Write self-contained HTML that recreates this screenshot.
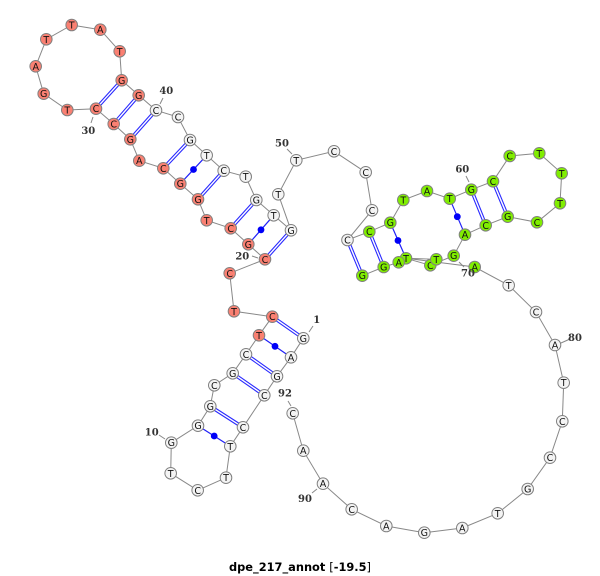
<!DOCTYPE html>
<html><head><meta charset="utf-8"><style>
html,body{margin:0;padding:0;background:#fff;width:600px;height:576px;overflow:hidden}
svg{display:block}
.r{fill:#fa8072}.g{fill:#80ee00}.w{fill:#f4f4f4}
circle.r,circle.g,circle.w{stroke:#808080;stroke-width:1;r:5.8px}
.n text,text.n{font:9.5px "DejaVu Sans",sans-serif;text-anchor:middle;fill:#111}
.l{font:bold 10px "DejaVu Serif",serif;text-anchor:middle;fill:#333}
</style></head><body>
<svg width="600" height="576" viewBox="0 0 600 576" xmlns="http://www.w3.org/2000/svg">
<path fill="none" stroke="#888" stroke-width="1" d="M303.3 338.3L291 357.3L277 376.3L264.3 395.3L243 427.3L230.3 446.3L226 477.7L197.7 490.3L170.7 473.3L171.3 442.7L198 425.7L210.3 406.3L214.3 385.3L232.7 373.3L246 354.3L259 335.3L272.3 316.7L234 311.3L229.7 273.3L265 259.3L248.3 244.3L230.7 228.3L206.7 220.3L198 199.3L180.3 183.7L163.3 168.3L139.3 160.7L130.3 139.3L113.7 124L96 108.7L67.3 110L43.7 93.7L35.7 66.3L46.3 39.3L71.7 25L100.3 29.7L119.7 51.3L121.7 80.3L138.7 95.3L156 110.3L178 117L190 140L206.7 155.3L223.7 170.7L245.7 176.7L256.3 200L273.7 215.3L291 230.3L278.3 194.3L296.3 160.3L334 151.3L365.7 172.3L372 210.3L347.5 240L369.3 231.7L390.3 222.7L403.3 200L427 191L449.7 198.7L471.3 189.7L493 181.3L509.7 156L539.3 153.3L561.7 173.3L560 203.3L537 222.3L507.7 216.7L485.7 225.3L465 234.7L453.7 255.7L430.3 265.3L436.3 259.3L406 258.3L398.7 262.3L383.7 267L362.3 275.7M406 258.3L474.7 267L508.7 285.3L536 312L555 345L563.7 382.7L562.3 421.3L550 457.7L527.7 489L497.7 513.3L462.3 528L424.3 532.7L386.3 526L351.7 509.3L323 483.7L303.3 450.7L292.7 413.3"/>
<path fill="none" stroke="#888" stroke-width="1" d="M406 258.3L430.3 265.3M309 332L313 326M159 435L165 439M252 256L258 258M93 117L91 123M163 98L160 104M287 149L292 154M466 176L469 182M459 262L464 267M570 339L561 343M317 489L312 493M288 401L291 406"/>
<path fill="none" stroke="#2a2aff" stroke-width="3.6" d="M303.3 338.3L272.3 316.7M277 376.3L246 354.3M264.3 395.3L232.7 373.3M243 427.3L210.3 406.3M265 259.3L291 230.3M230.7 228.3L256.3 200M198 199.3L223.7 170.7M163.3 168.3L190 140M130.3 139.3L156 110.3M113.7 124L138.7 95.3M96 108.7L121.7 80.3M347.5 240L362.3 275.7M369.3 231.7L383.7 267M471.3 189.7L485.7 225.3M493 181.3L507.7 216.7"/>
<path fill="none" stroke="#fff" stroke-width="1.4" d="M303.3 338.3L272.3 316.7M277 376.3L246 354.3M264.3 395.3L232.7 373.3M243 427.3L210.3 406.3M265 259.3L291 230.3M230.7 228.3L256.3 200M198 199.3L223.7 170.7M163.3 168.3L190 140M130.3 139.3L156 110.3M113.7 124L138.7 95.3M96 108.7L121.7 80.3M347.5 240L362.3 275.7M369.3 231.7L383.7 267M471.3 189.7L485.7 225.3M493 181.3L507.7 216.7"/>
<path fill="none" stroke="#2020f8" stroke-width="1.2" d="M291 357.3L259 335.3M230.3 446.3L198 425.7M248.3 244.3L273.7 215.3M180.3 183.7L206.7 155.3M390.3 222.7L406 258.3M449.7 198.7L465 234.7"/>
<g fill="#0000f8"><circle cx="275" cy="346.3" r="3.4"/><circle cx="214.2" cy="436" r="3.4"/><circle cx="261" cy="229.8" r="3.4"/><circle cx="193.5" cy="169.5" r="3.4"/><circle cx="398" cy="240.5" r="3.4"/><circle cx="457.3" cy="216.7" r="3.4"/></g>
<g class="n">
<circle class="w" cx="303.3" cy="338.3" r="5.8"/><text x="303.3" y="341.8">G</text>
<circle class="w" cx="291" cy="357.3" r="5.8"/><text x="291" y="360.8">A</text>
<circle class="w" cx="277" cy="376.3" r="5.8"/><text x="277" y="379.8">G</text>
<circle class="w" cx="264.3" cy="395.3" r="5.8"/><text x="264.3" y="398.8">C</text>
<circle class="w" cx="243" cy="427.3" r="5.8"/><text x="243" y="430.8">C</text>
<circle class="w" cx="230.3" cy="446.3" r="5.8"/><text x="230.3" y="449.8">T</text>
<circle class="w" cx="226" cy="477.7" r="5.8"/><text x="226" y="481.2">T</text>
<circle class="w" cx="197.7" cy="490.3" r="5.8"/><text x="197.7" y="493.8">C</text>
<circle class="w" cx="170.7" cy="473.3" r="5.8"/><text x="170.7" y="476.8">T</text>
<circle class="w" cx="171.3" cy="442.7" r="5.8"/><text x="171.3" y="446.2">G</text>
<circle class="w" cx="198" cy="425.7" r="5.8"/><text x="198" y="429.2">G</text>
<circle class="w" cx="210.3" cy="406.3" r="5.8"/><text x="210.3" y="409.8">G</text>
<circle class="w" cx="214.3" cy="385.3" r="5.8"/><text x="214.3" y="388.8">C</text>
<circle class="w" cx="232.7" cy="373.3" r="5.8"/><text x="232.7" y="376.8">G</text>
<circle class="w" cx="246" cy="354.3" r="5.8"/><text x="246" y="357.8">C</text>
<circle class="r" cx="259" cy="335.3" r="5.8"/><text x="259" y="338.8">T</text>
<circle class="r" cx="272.3" cy="316.7" r="5.8"/><text x="272.3" y="320.2">C</text>
<circle class="r" cx="234" cy="311.3" r="5.8"/><text x="234" y="314.8">T</text>
<circle class="r" cx="229.7" cy="273.3" r="5.8"/><text x="229.7" y="276.8">C</text>
<circle class="r" cx="265" cy="259.3" r="5.8"/><text x="265" y="262.8">C</text>
<circle class="r" cx="248.3" cy="244.3" r="5.8"/><text x="248.3" y="247.8">G</text>
<circle class="r" cx="230.7" cy="228.3" r="5.8"/><text x="230.7" y="231.8">C</text>
<circle class="r" cx="206.7" cy="220.3" r="5.8"/><text x="206.7" y="223.8">T</text>
<circle class="r" cx="198" cy="199.3" r="5.8"/><text x="198" y="202.8">G</text>
<circle class="r" cx="180.3" cy="183.7" r="5.8"/><text x="180.3" y="187.2">G</text>
<circle class="r" cx="163.3" cy="168.3" r="5.8"/><text x="163.3" y="171.8">C</text>
<circle class="r" cx="139.3" cy="160.7" r="5.8"/><text x="139.3" y="164.2">A</text>
<circle class="r" cx="130.3" cy="139.3" r="5.8"/><text x="130.3" y="142.8">G</text>
<circle class="r" cx="113.7" cy="124" r="5.8"/><text x="113.7" y="127.5">C</text>
<circle class="r" cx="96" cy="108.7" r="5.8"/><text x="96" y="112.2">C</text>
<circle class="r" cx="67.3" cy="110" r="5.8"/><text x="67.3" y="113.5">T</text>
<circle class="r" cx="43.7" cy="93.7" r="5.8"/><text x="43.7" y="97.2">G</text>
<circle class="r" cx="35.7" cy="66.3" r="5.8"/><text x="35.7" y="69.8">A</text>
<circle class="r" cx="46.3" cy="39.3" r="5.8"/><text x="46.3" y="42.8">T</text>
<circle class="r" cx="71.7" cy="25" r="5.8"/><text x="71.7" y="28.5">T</text>
<circle class="r" cx="100.3" cy="29.7" r="5.8"/><text x="100.3" y="33.2">A</text>
<circle class="r" cx="119.7" cy="51.3" r="5.8"/><text x="119.7" y="54.8">T</text>
<circle class="r" cx="121.7" cy="80.3" r="5.8"/><text x="121.7" y="83.8">G</text>
<circle class="r" cx="138.7" cy="95.3" r="5.8"/><text x="138.7" y="98.8">G</text>
<circle class="w" cx="156" cy="110.3" r="5.8"/><text x="156" y="113.8">C</text>
<circle class="w" cx="178" cy="117" r="5.8"/><text x="178" y="120.5">C</text>
<circle class="w" cx="190" cy="140" r="5.8"/><text x="190" y="143.5">G</text>
<circle class="w" cx="206.7" cy="155.3" r="5.8"/><text x="206.7" y="158.8">T</text>
<circle class="w" cx="223.7" cy="170.7" r="5.8"/><text x="223.7" y="174.2">C</text>
<circle class="w" cx="245.7" cy="176.7" r="5.8"/><text x="245.7" y="180.2">T</text>
<circle class="w" cx="256.3" cy="200" r="5.8"/><text x="256.3" y="203.5">G</text>
<circle class="w" cx="273.7" cy="215.3" r="5.8"/><text x="273.7" y="218.8">T</text>
<circle class="w" cx="291" cy="230.3" r="5.8"/><text x="291" y="233.8">G</text>
<circle class="w" cx="278.3" cy="194.3" r="5.8"/><text x="278.3" y="197.8">T</text>
<circle class="w" cx="296.3" cy="160.3" r="5.8"/><text x="296.3" y="163.8">T</text>
<circle class="w" cx="334" cy="151.3" r="5.8"/><text x="334" y="154.8">C</text>
<circle class="w" cx="365.7" cy="172.3" r="5.8"/><text x="365.7" y="175.8">C</text>
<circle class="w" cx="372" cy="210.3" r="5.8"/><text x="372" y="213.8">C</text>
<circle class="w" cx="347.5" cy="240" r="5.8"/><text x="347.5" y="243.5">C</text>
<circle class="g" cx="369.3" cy="231.7" r="5.8"/><text x="369.3" y="235.2">C</text>
<circle class="g" cx="390.3" cy="222.7" r="5.8"/><text x="390.3" y="226.2">G</text>
<circle class="g" cx="403.3" cy="200" r="5.8"/><text x="403.3" y="203.5">T</text>
<circle class="g" cx="427" cy="191" r="5.8"/><text x="427" y="194.5">A</text>
<circle class="g" cx="449.7" cy="198.7" r="5.8"/><text x="449.7" y="202.2">T</text>
<circle class="g" cx="471.3" cy="189.7" r="5.8"/><text x="471.3" y="193.2">G</text>
<circle class="g" cx="493" cy="181.3" r="5.8"/><text x="493" y="184.8">C</text>
<circle class="g" cx="509.7" cy="156" r="5.8"/><text x="509.7" y="159.5">C</text>
<circle class="g" cx="539.3" cy="153.3" r="5.8"/><text x="539.3" y="156.8">T</text>
<circle class="g" cx="561.7" cy="173.3" r="5.8"/><text x="561.7" y="176.8">T</text>
<circle class="g" cx="560" cy="203.3" r="5.8"/><text x="560" y="206.8">T</text>
<circle class="g" cx="537" cy="222.3" r="5.8"/><text x="537" y="225.8">C</text>
<circle class="g" cx="507.7" cy="216.7" r="5.8"/><text x="507.7" y="220.2">G</text>
<circle class="g" cx="485.7" cy="225.3" r="5.8"/><text x="485.7" y="228.8">C</text>
<circle class="g" cx="465" cy="234.7" r="5.8"/><text x="465" y="238.2">A</text>
<circle class="g" cx="453.7" cy="255.7" r="5.8"/><text x="453.7" y="259.2">G</text>
<circle class="g" cx="430.3" cy="265.3" r="5.8"/><text x="430.3" y="268.8">C</text>
<circle class="g" cx="436.3" cy="259.3" r="5.8"/><text x="436.3" y="262.8">T</text>
<circle class="g" cx="406" cy="258.3" r="5.8"/><text x="406" y="261.8">T</text>
<circle class="g" cx="398.7" cy="262.3" r="5.8"/><text x="398.7" y="265.8">A</text>
<circle class="g" cx="383.7" cy="267" r="5.8"/><text x="383.7" y="270.5">G</text>
<circle class="g" cx="362.3" cy="275.7" r="5.8"/><text x="362.3" y="279.2">G</text>
<circle class="g" cx="474.7" cy="267" r="5.8"/><text x="474.7" y="270.5">A</text>
<circle class="w" cx="508.7" cy="285.3" r="5.8"/><text x="508.7" y="288.8">T</text>
<circle class="w" cx="536" cy="312" r="5.8"/><text x="536" y="315.5">C</text>
<circle class="w" cx="555" cy="345" r="5.8"/><text x="555" y="348.5">A</text>
<circle class="w" cx="563.7" cy="382.7" r="5.8"/><text x="563.7" y="386.2">T</text>
<circle class="w" cx="562.3" cy="421.3" r="5.8"/><text x="562.3" y="424.8">C</text>
<circle class="w" cx="550" cy="457.7" r="5.8"/><text x="550" y="461.2">C</text>
<circle class="w" cx="527.7" cy="489" r="5.8"/><text x="527.7" y="492.5">G</text>
<circle class="w" cx="497.7" cy="513.3" r="5.8"/><text x="497.7" y="516.8">T</text>
<circle class="w" cx="462.3" cy="528" r="5.8"/><text x="462.3" y="531.5">A</text>
<circle class="w" cx="424.3" cy="532.7" r="5.8"/><text x="424.3" y="536.2">G</text>
<circle class="w" cx="386.3" cy="526" r="5.8"/><text x="386.3" y="529.5">A</text>
<circle class="w" cx="351.7" cy="509.3" r="5.8"/><text x="351.7" y="512.8">C</text>
<circle class="w" cx="323" cy="483.7" r="5.8"/><text x="323" y="487.2">A</text>
<circle class="w" cx="303.3" cy="450.7" r="5.8"/><text x="303.3" y="454.2">A</text>
<circle class="w" cx="292.7" cy="413.3" r="5.8"/><text x="292.7" y="416.8">C</text>
</g>
<text class="l" x="316.7" y="323.2">1</text>
<text class="l" x="151.7" y="435.6">10</text>
<text class="l" x="242.3" y="259.6">20</text>
<text class="l" x="88.3" y="133.9">30</text>
<text class="l" x="166.3" y="94.2">40</text>
<text class="l" x="282" y="146.6">50</text>
<text class="l" x="462.3" y="172.6">60</text>
<text class="l" x="468" y="276.6">70</text>
<text class="l" x="575" y="341">80</text>
<text class="l" x="305" y="502.2">90</text>
<text class="l" x="285" y="396.6">92</text>
<text x="229" y="571" font-family="DejaVu Sans,sans-serif" font-size="11.5" font-weight="bold" fill="#000" textLength="142" lengthAdjust="spacingAndGlyphs">dpe_217_annot <tspan font-weight="normal">[</tspan>-19.5<tspan font-weight="normal">]</tspan></text>
</svg>
</body></html>
